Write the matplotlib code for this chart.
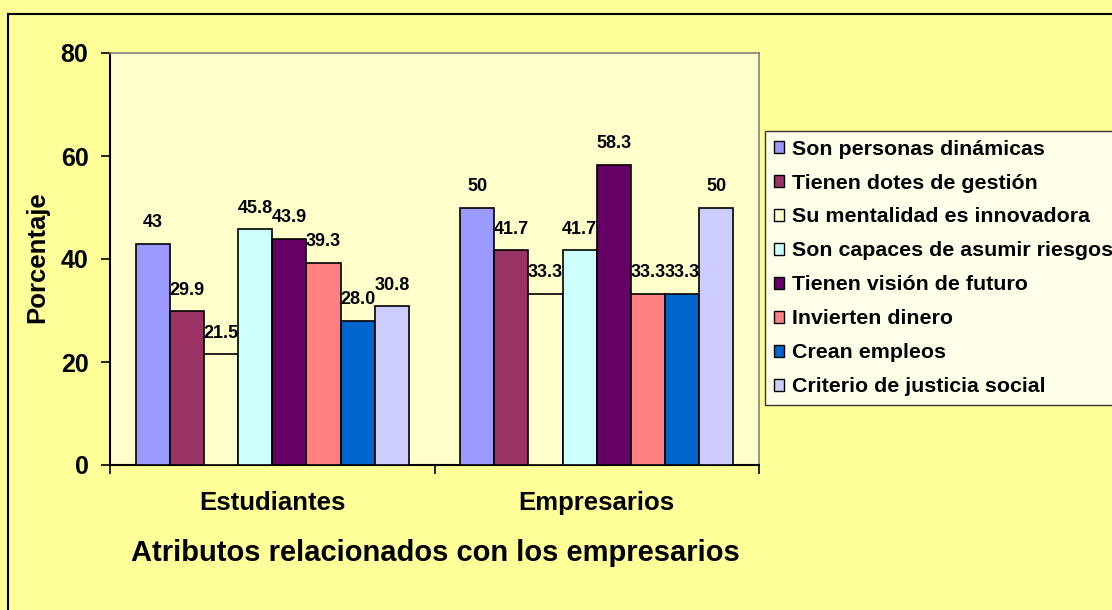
import matplotlib
matplotlib.use("Agg")
import matplotlib.pyplot as plt
import numpy as np
from matplotlib.patches import Rectangle, Patch

plt.rcParams['font.family'] = ['Liberation Sans', 'DejaVu Sans']
plt.rcParams['font.weight'] = 'bold'

categories = ["Estudiantes", "Empresarios"]
series = ["Son personas dinámicas", "Tienen dotes de gestión", "Su mentalidad es innovadora",
          "Son capaces de asumir riesgos", "Tienen visión de futuro", "Invierten dinero",
          "Crean empleos", "Criterio de justicia social"]
estudiantes = [43, 29.9, 21.5, 45.8, 43.9, 39.3, 28.0, 30.8]
empresarios = [50, 41.7, 33.3, 41.7, 58.3, 33.3, 33.3, 50]
label_est = ["43", "29.9", "21.5", "45.8", "43.9", "39.3", "28.0", "30.8"]
label_emp = ["50", "41.7", "33.3", "41.7", "58.3", "33.3", "33.3", "50"]
colors = ["#9999FF", "#993366", "#FFFFCC", "#CCFFFF", "#660066", "#FF8080", "#0066CC", "#CCCCFF"]
yticks = [0, 20, 40, 60, 80]

W, H = 1112, 610
fig = plt.figure(figsize=(W / 100, H / 100), dpi=100)
fig.patch.set_facecolor("#FFFF99")
fig.patches.append(Rectangle((8 / W, -0.1), 1.2, 1 - 14 / H + 0.1, transform=fig.transFigure,
                             fill=False, edgecolor="black", linewidth=1.5))

ax = fig.add_axes([110 / W, 1 - 465 / H, 649 / W, 412 / H])
ax.set_facecolor("#FFFFCC")

n = len(series)
w = 1 / (n + 1.5)
x = np.arange(len(categories))
data = [estudiantes, empresarios]
labels = [label_est, label_emp]
for i in range(n):
    vals = [d[i] for d in data]
    pos = x + (i - (n - 1) / 2) * w
    bars = ax.bar(pos, vals, width=w, color=colors[i], edgecolor="black", linewidth=1.2,
                  label=series[i], zorder=3)
    ax.bar_label(bars, labels=[l[i] for l in labels], padding=9, fontsize=13,
                 fontweight='bold', zorder=4)

ax.set_xlim(-0.5, 1.5)
ax.set_ylim(0, 80)
ax.set_yticks(yticks)
ax.tick_params(axis='y', labelsize=18, length=6.5, width=1.2, direction='out', pad=9)
ax.set_xticks([-0.5, 0.5, 1.5])
ax.set_xticklabels([])
ax.tick_params(axis='x', which='major', length=6.5, width=1.2, direction='out')
ax.set_xticks(x, minor=True)
ax.set_xticklabels(categories, minor=True, fontsize=18.5, fontweight='bold')
ax.tick_params(axis='x', which='minor', length=0, pad=19)
for lab in ax.get_yticklabels():
    lab.set_fontweight('bold')

for s in ['top', 'right']:
    ax.spines[s].set_color("#808080")
    ax.spines[s].set_linewidth(1.2)
for s in ['left', 'bottom']:
    ax.spines[s].set_color("black")
    ax.spines[s].set_linewidth(1.5)

fig.text(37 / W, 1 - 257 / H, "Porcentaje", rotation=90, ha='center', va='center',
         fontsize=18.5, fontweight='bold')
fig.text(435 / W, 1 - 553 / H, "Atributos relacionados con los empresarios", ha='center',
         va='center', fontsize=21, fontweight='bold')

handles = [Patch(facecolor=c, edgecolor='black', linewidth=1) for c in colors]
leg = fig.legend(handles, series, loc='upper left', bbox_to_anchor=(765 / W, 1 - 131 / H),
                 bbox_transform=fig.transFigure, fontsize=15.4, frameon=True, fancybox=False,
                 handlelength=0.5, handleheight=0.5, handletextpad=0.35, labelspacing=0.70,
                 borderpad=0.4, borderaxespad=0)
leg.get_frame().set_edgecolor('black')
leg.get_frame().set_linewidth(1)
leg.get_frame().set_facecolor('white')
for t in leg.get_texts():
    t.set_fontweight('bold')

fig.savefig("out.png", dpi=100, facecolor=fig.get_facecolor())
